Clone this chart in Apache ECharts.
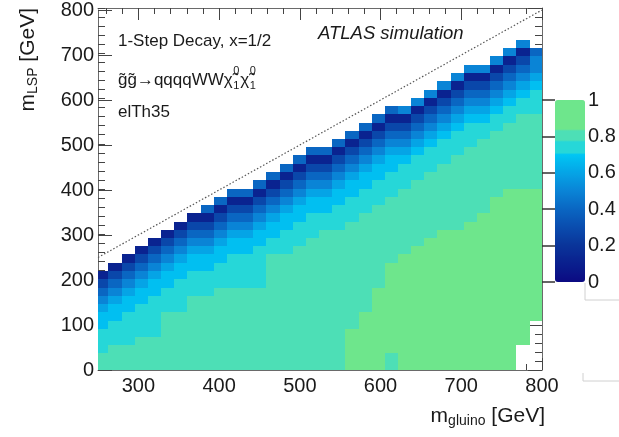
<!DOCTYPE html>
<html><head><meta charset="utf-8">
<script src="https://cdn.jsdelivr.net/npm/echarts@6/dist/echarts.min.js"></script>
<style>html,body{margin:0;padding:0;background:#fff}#c{width:619px;height:437px}</style>
</head><body><div id="c"></div>
<script>
// ---- data ----
// bin edges in GeV
const xEdges = [250,263,279.3,295.6,311.9,328.2,344.5,360.8,377.1,393.4,409.7,426,442.3,458.6,474.9,491.2,507.5,523.8,540.1,556.4,572.7,589,605.3,621.6,637.9,654.2,670.5,686.8,703.1,719.4,735.7,752,768.3,784.6,800];
const yEdges = [0,18.33,36.67,55,73.33,91.67,110,128.33,146.67,165,183.33,201.67,220,238.33,256.67,275,293.33,311.67,330,348.33,366.67,385,403.33,421.67,440,458.33,476.67,495,513.33,531.67,550,568.33,586.67,605,623.33,641.67,660,678.33,696.67,715,733.33];
// efficiency level of each colour band
const levelValue = {N:0.12, D:0.28, M:0.40, B:0.50, L:0.60, C:0.68, T:0.74, S:0.80, G:0.92};
// one run-length string per m_gluino column, from m_LSP = 0 upwards ("3S" = 3 cells of level S, "." = empty cell)
const columns = [
"2S3T2C1L1B1M1D1N",
"3S3T2C1L1B1M1D1N",
"3S4T2C1L1B1M1D1N",
"4S4T2C1L1B1M1D1N",
"4S5T2C1L1B1M1D1N",
"7S3T2C1L1B1M1D1N",
"7S4T2C1L1B1M1D1N",
"9S3T2C1L1B1M1D1N",
"9S3T2C1L1B1M1D1N1M",
"10S3T2C1L1B1M1D1N1M",
"10S4T2C1L1B1M1D1N1M",
"10S4T2C1L1B1M1D1N1M",
"10S5T2C1L1B1M1D1N1M",
"14S2T2C1L1B1M1D1N1M",
"14S3T2C1L1B1M1D1N1M",
"15S3T2C1L1B1M1D1N1M",
"16S3T2C1L1B1M1D1N1M",
"17S2T2C1L1B1M1D1N1M",
"17S3T2C1L1B1M1D1N1M",
"5G13S3T2C1L1B1M1D1N1M",
"7G12S3T2C1L1B1M1D1N1M",
"10G10S3T2C1L1B1M1D1N1M",
"2S11G8S3T2C1L1B1M1D1N1M",
"14G8S3T1C1L1B1M1D1N1B",
"15G8S3T1C1L1B1M1D1N1B",
"16G8S3T1C1L1B1M1D1N1B",
"17G8S3T1C1L1B1M1D1N1B",
"17G9S3T1C1L1B1M1D1N1B",
"18G9S3T1C1L1B1M1D1N1B",
"19G9S2T1C1L1B1M1D1N1B",
"21G8S2T1C1L1B1M1D1N1B",
"22G8S2T1C1L1B1M1D1N1B",
"3.19G9S2T1C1L1B1M1D1N1B",
"6.16G9S3T1C1L2B1M"
];
const diagLine = [[250,250],[800,800]];
const xMajorTicks = [300,400,500,600,700,800];
const xMinorTicks = [260,280,320,340,360,380,420,440,460,480,520,540,560,580,620,640,660,680,720,740,760,780];
const cbarTicks = [0,0.2,0.4,0.6,0.8,1];

// ---- build ----
const cells = [];
columns.forEach((col, c) => {
  let r = 0;
  col.replace(/(\d+)([A-Z.])/g, (m, n, ch) => {
    for (let k = 0; k < +n; k++, r++) {
      if (ch !== '.') cells.push([xEdges[c], xEdges[c+1], yEdges[r], yEdges[r+1], levelValue[ch]]);
    }
    return m;
  });
});

const stops = [[0,'#0b0a82'],[0.1,'#0a1f8e'],[0.2,'#0a3499'],[0.3,'#0a4cae'],[0.4,'#0a66c2'],[0.5,'#0a84d6'],[0.6,'#05a4e6'],[0.7,'#00c6f4'],
  [0.705,'#26d7d8'],[0.77,'#26d7d8'],[0.775,'#4ddfb6'],[0.835,'#4ddfb6'],[0.84,'#6ee68c'],[1,'#6ee68c']];
function hex(c){return [parseInt(c.slice(1,3),16),parseInt(c.slice(3,5),16),parseInt(c.slice(5,7),16)];}
function sample(v){
  for (let i=0;i<stops.length-1;i++){
    const a=stops[i], b=stops[i+1];
    if (v>=a[0] && v<=b[0]) {
      const t=(v-a[0])/(b[0]-a[0]||1), ca=hex(a[1]), cb=hex(b[1]);
      return 'rgb('+ca.map((x,k)=>Math.round(x+(cb[k]-x)*t)).join(',')+')';
    }
  }
  return stops[stops.length-1][1];
}
const palette = []; for (let i=0;i<=400;i++) palette.push(sample(i/400));

const FF = "'Liberation Sans', Arial, Helvetica, sans-serif";
const gridRect = {left:98, top:8, width:444, height:362};
const lineCol = '#6a6a6a';

function xAx(grid, pos, ticks, len, labels, line){
  return {type:'value', gridIndex:grid, position:pos, min:250, max:800,
    axisLine:{show:line, onZero:false, lineStyle:{color:lineCol, width:1}},
    axisTick:{show:true, inside:true, length:len, customValues:ticks, lineStyle:{color:'#444', width:1}},
    axisLabel:{show:labels, customValues:ticks, margin:6, fontSize:20, color:'#1a1a1a', fontFamily:FF},
    splitLine:{show:false}};
}
function yAx(grid, pos, interval, len, labels, line){
  return {type:'value', gridIndex:grid, position:pos, min:0, max:800, interval:interval,
    axisLine:{show:line, onZero:false, lineStyle:{color:lineCol, width:1}},
    axisTick:{show:true, inside:true, length:len, lineStyle:{color:'#444', width:1}},
    axisLabel:{show:labels, margin:4, fontSize:20, color:'#1a1a1a', fontFamily:FF},
    splitLine:{show:false}};
}

const ctx = document.createElement('canvas').getContext('2d');
function tw(t, f){ ctx.font = f; return ctx.measureText(t).width; }
const decFont = '17px ' + FF;
const part1 = 'g\u0303g\u0303\u2192qqqqWW\u03c7\u0303';
const chi = '\u03c7\u0303';
const dx0 = 118, dy = 80;
const w1 = tw(part1, decFont), w2 = tw(chi, decFont);
const sx1 = dx0 + w1 + 0.5, cx2 = sx1 + 7, sx2 = cx2 + w2 + 0.5;

const chart = echarts.init(document.getElementById('c'), null, {renderer:'canvas'});
chart.setOption({
  animation:false,
  backgroundColor:'#fff',
  grid:[Object.assign({}, gridRect), Object.assign({}, gridRect), Object.assign({}, gridRect), Object.assign({}, gridRect),
        {left:555, top:100, width:30, height:182}],
  xAxis:[xAx(0,'bottom',xMajorTicks,12,true,true), xAx(1,'bottom',xMinorTicks,6,false,false),
         xAx(2,'top',xMajorTicks,12,false,true), xAx(3,'top',xMinorTicks,6,false,false),
         {type:'value', gridIndex:4, show:false, min:0, max:1}],
  yAxis:[yAx(0,'left',100,14,true,true), yAx(1,'left',20,7,false,false),
         yAx(2,'right',100,14,false,true), yAx(3,'right',20,7,false,false),
         {type:'value', gridIndex:4, position:'right', min:0, max:1, interval:0.2,
          axisLine:{show:false}, splitLine:{show:false},
          axisTick:{show:true, inside:true, length:13, lineStyle:{color:'#333', width:1.5}},
          axisLabel:{margin:3, fontSize:20, color:'#1a1a1a', fontFamily:FF,
            formatter:v=>{const k=cbarTicks.find(t=>Math.abs(t-v)<1e-6); return k===undefined?'':String(k);}}}],
  visualMap:{type:'continuous', min:0, max:1, dimension:4, seriesIndex:0, calculable:false,
    left:555, top:100, itemWidth:30, itemHeight:182, padding:0, text:['',''], hoverLink:false,
    inRange:{color:palette}},
  series:[
    {type:'custom', xAxisIndex:0, yAxisIndex:0, data:cells, encode:{x:[0,1], y:[2,3]}, clip:true, z:2,
     renderItem:function(params, api){
       const p0 = api.coord([api.value(0), api.value(3)]);
       const p1 = api.coord([api.value(1), api.value(2)]);
       const L=Math.round(p0[0]), T=Math.round(p0[1]), R=Math.round(p1[0]), B=Math.round(p1[1]);
       return {type:'rect', shape:{x:L, y:T, width:R-L, height:B-T}, style:{fill:api.visual('color')}};
     }},
    {type:'line', xAxisIndex:0, yAxisIndex:0, data:diagLine, symbol:'none', z:3,
     lineStyle:{color:'#555', width:1.2, type:[1.5,2]}}
  ],
  graphic:[
    {type:'text', x:28, y:8, rotation:Math.PI/2, z:10, style:{text:'{a|m}{b|LSP}{a| [GeV]}', align:'right', verticalAlign:'middle',
      rich:{a:{fontSize:21, fontFamily:FF, fill:'#1a1a1a'}, b:{fontSize:14, fontFamily:FF, fill:'#1a1a1a', padding:[10,0,0,0]}}}},
    {type:'text', x:545, y:416, z:10, style:{text:'{a|m}{b|gluino}{a| [GeV]}', align:'right', verticalAlign:'middle',
      rich:{a:{fontSize:21, fontFamily:FF, fill:'#1a1a1a'}, b:{fontSize:14, fontFamily:FF, fill:'#1a1a1a', padding:[10,0,0,0]}}}},
    {type:'text', x:118, y:41, z:10, style:{text:'1-Step Decay, x=1/2', font:decFont, fill:'#1a1a1a', verticalAlign:'middle'}},
    {type:'text', x:dx0, y:dy, z:10, style:{text:part1, font:decFont, fill:'#1a1a1a', verticalAlign:'middle'}},
    {type:'text', x:sx1, y:dy+6, z:10, style:{text:'1', font:'11px '+FF, fill:'#1a1a1a', verticalAlign:'middle'}},
    {type:'text', x:sx1, y:dy-9, z:10, style:{text:'0', font:'11px '+FF, fill:'#1a1a1a', verticalAlign:'middle'}},
    {type:'text', x:cx2, y:dy, z:10, style:{text:chi, font:decFont, fill:'#1a1a1a', verticalAlign:'middle'}},
    {type:'text', x:sx2, y:dy+6, z:10, style:{text:'1', font:'11px '+FF, fill:'#1a1a1a', verticalAlign:'middle'}},
    {type:'text', x:sx2, y:dy-9, z:10, style:{text:'0', font:'11px '+FF, fill:'#1a1a1a', verticalAlign:'middle'}},
    {type:'text', x:118, y:112, z:10, style:{text:'elTh35', font:decFont, fill:'#1a1a1a', verticalAlign:'middle'}},
    {type:'text', x:318, y:34, z:10, style:{text:'ATLAS simulation', font:'italic 18.5px '+FF, fill:'#1a1a1a', verticalAlign:'middle'}},
    {type:'polyline', z:1, shape:{points:[[585,283],[585,300],[619,300]]}, style:{stroke:'#d0d0d0', lineWidth:1, fill:null}},
    {type:'polyline', z:1, shape:{points:[[583,373],[583,381],[619,381]]}, style:{stroke:'#d0d0d0', lineWidth:1, fill:null}}
  ]
});
</script></body></html>
